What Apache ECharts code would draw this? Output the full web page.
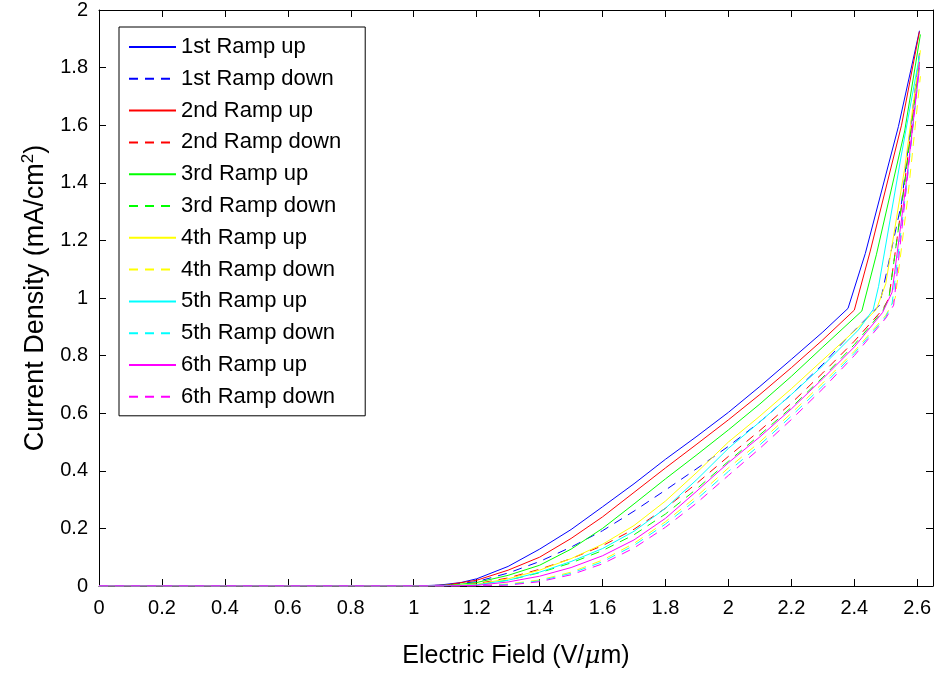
<!DOCTYPE html>
<html>
<head>
<meta charset="utf-8">
<script src="https://cdn.jsdelivr.net/npm/echarts@6/dist/echarts.min.js"></script>
<style>
html,body{margin:0;padding:0;background:#fff;}
#chart{width:935px;height:673px;}
</style>
</head>
<body>
<div id="chart"></div>
<script>
// ---- data (Electric Field V/um, Current Density mA/cm^2) ----
const seriesNames = ['1st Ramp up','1st Ramp down','2nd Ramp up','2nd Ramp down','3rd Ramp up','3rd Ramp down','4th Ramp up','4th Ramp down','5th Ramp up','5th Ramp down','6th Ramp up','6th Ramp down'];
const seriesColors = ['#0000ff','#0000ff','#ff0000','#ff0000','#00ff00','#00ff00','#ffff00','#ffff00','#00ffff','#00ffff','#ff00ff','#ff00ff'];

const ramp1UpX = [0, 1.0, 1.08, 1.15, 1.2, 1.3, 1.4, 1.5, 1.6, 1.7, 1.8, 1.9, 2.0, 2.1, 2.2, 2.3, 2.38, 2.435, 2.54, 2.607];
const ramp1UpY = [0, 0, 0.003, 0.012, 0.025, 0.068, 0.128, 0.196, 0.275, 0.355, 0.44, 0.52, 0.603, 0.693, 0.787, 0.882, 0.964, 1.155, 1.595, 1.928];
const ramp1DownX = [0, 1.0, 1.1, 1.2, 1.3, 1.4, 1.5, 1.6, 1.7, 1.8, 1.9, 2.0, 2.1, 2.2, 2.3, 2.38, 2.48, 2.55, 2.607];
const ramp1DownY = [0, 0, 0.003, 0.015, 0.045, 0.085, 0.135, 0.192, 0.26, 0.333, 0.408, 0.485, 0.57, 0.665, 0.77, 0.865, 0.975, 1.33, 1.85];

const ramp2UpX = [0, 1.0, 1.1, 1.2, 1.3, 1.4, 1.5, 1.6, 1.7, 1.8, 1.9, 2.0, 2.1, 2.2, 2.3, 2.40, 2.45, 2.55, 2.607];
const ramp2UpY = [0, 0, 0.003, 0.02, 0.055, 0.1, 0.165, 0.24, 0.325, 0.41, 0.493, 0.577, 0.665, 0.758, 0.855, 0.958, 1.16, 1.6, 1.925];
const ramp2DownX = [0, 1.0, 1.1, 1.2, 1.3, 1.4, 1.5, 1.6, 1.7, 1.8, 1.9, 2.0, 2.1, 2.2, 2.3, 2.4, 2.49, 2.51, 2.56, 2.607];
const ramp2DownY = [0, 0, 0.001, 0.008, 0.028, 0.058, 0.095, 0.14, 0.197, 0.27, 0.357, 0.45, 0.54, 0.635, 0.74, 0.85, 0.96, 1.0, 1.4, 1.83];

const ramp3UpX = [0, 1.0, 1.12, 1.2, 1.3, 1.4, 1.5, 1.6, 1.7, 1.8, 1.9, 2.0, 2.1, 2.2, 2.3, 2.424, 2.47, 2.56, 2.61];
const ramp3UpY = [0, 0, 0.003, 0.012, 0.037, 0.072, 0.128, 0.2, 0.285, 0.372, 0.456, 0.542, 0.632, 0.728, 0.83, 0.955, 1.15, 1.58, 1.915];
const ramp3DownX = [0, 1.0, 1.1, 1.2, 1.3, 1.4, 1.5, 1.6, 1.7, 1.8, 1.9, 2.0, 2.1, 2.2, 2.3, 2.4, 2.49, 2.51, 2.56, 2.607];
const ramp3DownY = [0, 0, 0.001, 0.005, 0.02, 0.046, 0.08, 0.123, 0.178, 0.25, 0.338, 0.433, 0.525, 0.62, 0.725, 0.838, 0.955, 1.0, 1.4, 1.82];

const ramp4UpX = [0, 1.0, 1.1, 1.2, 1.3, 1.4, 1.5, 1.6, 1.7, 1.8, 1.9, 2.0, 2.1, 2.2, 2.3, 2.4, 2.47, 2.5, 2.56, 2.61];
const ramp4UpY = [0, 0, 0.001, 0.006, 0.025, 0.055, 0.095, 0.145, 0.21, 0.295, 0.395, 0.5, 0.59, 0.685, 0.785, 0.885, 0.96, 1.05, 1.45, 1.86];
const ramp4DownX = [0, 1.0, 1.1, 1.2, 1.3, 1.4, 1.5, 1.6, 1.7, 1.8, 1.9, 2.0, 2.1, 2.2, 2.3, 2.4, 2.5, 2.53, 2.57, 2.61];
const ramp4DownY = [0, 0, 0, 0.001, 0.007, 0.021, 0.048, 0.09, 0.148, 0.223, 0.312, 0.41, 0.5, 0.6, 0.705, 0.815, 0.94, 1.0, 1.35, 1.77];

const ramp5UpX = [0, 1.0, 1.1, 1.2, 1.3, 1.4, 1.5, 1.6, 1.7, 1.8, 1.9, 2.0, 2.1, 2.2, 2.3, 2.413, 2.46, 2.477, 2.55, 2.607];
const ramp5UpY = [0, 0, 0.001, 0.004, 0.02, 0.048, 0.085, 0.13, 0.19, 0.27, 0.37, 0.478, 0.57, 0.665, 0.765, 0.889, 0.96, 1.04, 1.5, 1.84];
const ramp5DownX = [0, 1.0, 1.1, 1.2, 1.3, 1.4, 1.5, 1.6, 1.7, 1.8, 1.9, 2.0, 2.1, 2.2, 2.3, 2.4, 2.5, 2.52, 2.565, 2.607];
const ramp5DownY = [0, 0, 0, 0.001, 0.005, 0.018, 0.044, 0.084, 0.141, 0.215, 0.302, 0.398, 0.49, 0.59, 0.695, 0.808, 0.935, 0.98, 1.38, 1.80];

const ramp6UpX = [0, 1.0, 1.1, 1.2, 1.3, 1.4, 1.5, 1.6, 1.7, 1.8, 1.9, 2.0, 2.1, 2.2, 2.3, 2.4, 2.49, 2.52, 2.565, 2.607];
const ramp6UpY = [0, 0, 0, 0.002, 0.014, 0.034, 0.064, 0.105, 0.16, 0.235, 0.33, 0.428, 0.518, 0.615, 0.72, 0.83, 0.95, 1.02, 1.4, 1.80];
const ramp6DownX = [0, 1.0, 1.1, 1.2, 1.3, 1.4, 1.5, 1.6, 1.7, 1.8, 1.9, 2.0, 2.1, 2.2, 2.3, 2.4, 2.5, 2.525, 2.565, 2.607];
const ramp6DownY = [0, 0, 0, 0, 0.003, 0.015, 0.039, 0.077, 0.132, 0.204, 0.289, 0.384, 0.478, 0.578, 0.685, 0.8, 0.93, 0.975, 1.38, 1.82];

const allX = [ramp1UpX, ramp1DownX, ramp2UpX, ramp2DownX, ramp3UpX, ramp3DownX, ramp4UpX, ramp4DownX, ramp5UpX, ramp5DownX, ramp6UpX, ramp6DownX];
const allY = [ramp1UpY, ramp1DownY, ramp2UpY, ramp2DownY, ramp3UpY, ramp3DownY, ramp4UpY, ramp4DownY, ramp5UpY, ramp5DownY, ramp6UpY, ramp6DownY];

const xAxisMin = 0, xAxisMax = 2.65, xAxisStep = 0.2;
const yAxisMin = 0, yAxisMax = 2, yAxisStep = 0.2;

// ---- chart ----
const FONT = '"Liberation Sans", Arial, Helvetica, sans-serif';
const chart = echarts.init(document.getElementById('chart'), null, {renderer: 'canvas'});

const series = seriesNames.map((name, i) => ({
  name: name,
  type: 'line',
  xAxisIndex: 0,
  yAxisIndex: 0,
  showSymbol: false,
  symbol: 'none',
  smooth: false,
  silent: true,
  color: seriesColors[i],
  lineStyle: {color: seriesColors[i], width: 1, type: (i % 2 === 1) ? [9, 7] : 'solid'},
  data: allX[i].map((x, k) => [x, allY[i][k]])
}));

const axisLineStyle = {show: true, onZero: false, lineStyle: {color: '#000', width: 1}};
const tickStyle = {show: true, inside: true, length: 7, lineStyle: {color: '#000', width: 1}};

chart.setOption({
  animation: false,
  backgroundColor: '#fff',
  textStyle: {fontFamily: FONT},
  grid: {left: 99, right: 2, top: 10, bottom: 87, containLabel: false, outerBoundsMode: 'none'},
  legend: {
    orient: 'vertical',
    left: 119,
    top: 27,
    padding: [9, 24, 8, 9],
    itemWidth: 47,
    itemHeight: 14,
    itemGap: 9.8,
    backgroundColor: '#fff',
    borderColor: '#000',
    borderWidth: 1,
    borderRadius: 0,
    itemStyle: {opacity: 0, borderWidth: 0},
    textStyle: {fontFamily: FONT, fontSize: 22, color: '#000', lineHeight: 22},
    data: seriesNames
  },
  xAxis: [{
    type: 'value', position: 'bottom', min: xAxisMin, max: xAxisMax, interval: xAxisStep,
    axisLine: axisLineStyle, axisTick: tickStyle, splitLine: {show: false},
    axisLabel: {color: '#000', fontSize: 20, fontFamily: FONT, margin: 12, showMaxLabel: false},
    name: 'Electric Field (V/{mu|μ}m)', nameLocation: 'middle', nameGap: 58,
    nameTextStyle: {color: '#000', fontSize: 25, fontFamily: FONT,
      rich: {mu: {fontSize: 25, fontStyle: 'italic', fontFamily: '"DejaVu Serif", serif', color: '#000'}}}
  }, {
    type: 'value', position: 'top', min: xAxisMin, max: xAxisMax, interval: xAxisStep,
    axisLine: axisLineStyle, axisTick: tickStyle, splitLine: {show: false}, axisLabel: {show: false}
  }],
  yAxis: [{
    type: 'value', position: 'left', min: yAxisMin, max: yAxisMax, interval: yAxisStep,
    axisLine: axisLineStyle, axisTick: tickStyle, splitLine: {show: false},
    axisLabel: {color: '#000', fontSize: 20, fontFamily: FONT, margin: 11},
    name: 'Current Density (mA/cm{sup|2})', nameLocation: 'middle', nameGap: 44, nameRotate: 90,
    nameTextStyle: {color: '#000', fontSize: 27, fontFamily: FONT,
      rich: {sup: {fontSize: 17, fontFamily: FONT, color: '#000', padding: [0, 0, 15, 0]}}}
  }, {
    type: 'value', position: 'right', min: yAxisMin, max: yAxisMax, interval: yAxisStep,
    axisLine: axisLineStyle, axisTick: tickStyle, splitLine: {show: false}, axisLabel: {show: false}
  }],
  series: series
});
</script>
</body>
</html>
